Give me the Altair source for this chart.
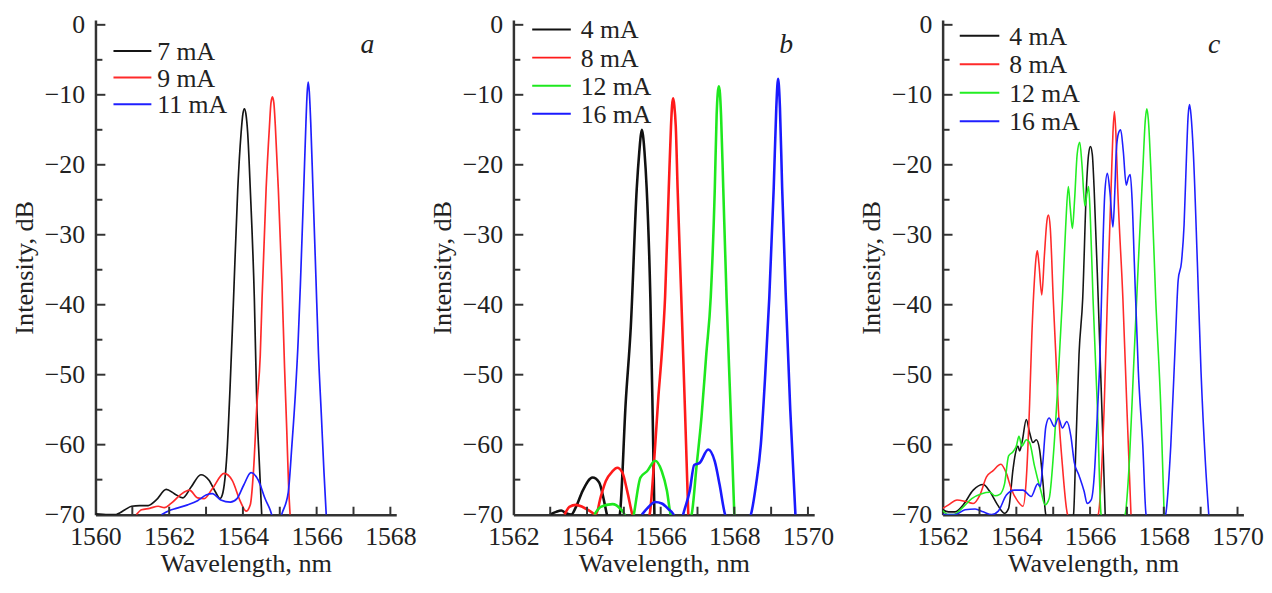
import altair as alt
import pandas as pd

FONT = "'Liberation Serif', 'Times New Roman', Times, 'DejaVu Serif', serif"
TXT = "#222222"
AXC = "#333333"
H = 500
W = 304

# ---------------- panel a ----------------
a_labels = ["7 mA", "9 mA", "11 mA"]
a_colors = ["#151515", "#ff2a2a", "#1f1fff"]
a7_wl = [1560.0, 1560.35, 1560.53, 1560.8, 1560.98, 1561.2, 1561.43, 1561.65, 1561.92, 1562.14,
         1562.37, 1562.59, 1562.86, 1563.08, 1563.26, 1563.38, 1563.44, 1563.57, 1563.65, 1563.74,
         1563.86, 1563.95, 1564.0, 1564.04, 1564.08, 1564.13, 1564.2, 1564.31, 1564.38, 1564.44, 1564.51]
a7_db = [-69.9, -70.0, -70.0, -69.3, -68.8, -68.7, -68.7, -67.9, -66.4, -67.0,
         -67.6, -66.1, -64.3, -65.1, -66.8, -67.7, -67.2, -61.0, -52.0, -40.0,
         -23.5, -15.5, -12.7, -12.0, -12.7, -15.5, -23.5, -39.1, -54.9, -62.0, -70.0]
a9_wl = [1561.11, 1561.25, 1561.47, 1561.70, 1561.87, 1562.05, 1562.32, 1562.55, 1562.77, 1562.95,
         1563.17, 1563.49, 1563.71, 1563.93, 1564.09, 1564.2, 1564.29, 1564.38, 1564.47, 1564.52,
         1564.63, 1564.72, 1564.76, 1564.80, 1564.84, 1564.88, 1564.96, 1565.06, 1565.13, 1565.19,
         1565.24, 1565.28]
a9_db = [-70.0, -69.3, -69.1, -68.8, -69.0, -68.4, -67.1, -66.5, -67.6, -67.7,
         -66.3, -64.1, -65.1, -68.1, -69.5, -68.6, -63.5, -54.2, -47.3, -39.0,
         -23.4, -14.5, -11.2, -10.3, -11.2, -14.5, -23.4, -37.0, -49.0, -58.0,
         -66.0, -70.0]
a11_wl = [1561.79, 1562.01, 1562.19, 1562.50, 1562.77, 1563.0, 1563.17, 1563.40, 1563.66, 1563.84,
          1564.02, 1564.22, 1564.42, 1564.60, 1564.78, 1564.9, 1565.05, 1565.23, 1565.33, 1565.42,
          1565.50, 1565.56, 1565.65, 1565.71, 1565.74, 1565.77, 1565.80, 1565.84, 1565.90, 1565.98,
          1566.05, 1566.13, 1566.20, 1566.26]
a11_db = [-70.0, -69.4, -69.1, -68.6, -68.0, -67.2, -67.0, -67.9, -68.2, -67.7,
          -65.8, -64.0, -65.1, -67.7, -70.0, -73.0, -70.0, -66.8, -60.0, -53.0,
          -45.0, -37.0, -23.4, -14.0, -10.0, -8.2, -9.5, -14.0, -23.4, -36.0,
          -47.0, -56.0, -64.0, -70.0]

# ---------------- panel b ----------------
b_labels = ["4 mA", "8 mA", "12 mA", "16 mA"]
b_colors = ["#111111", "#ff1a1a", "#1ee81e", "#1a1aff"]
b4_wl = [1562.99, 1563.16, 1563.30, 1563.43, 1563.57, 1563.70, 1563.88, 1564.15, 1564.33, 1564.46,
         1564.54, 1564.70, 1564.89, 1565.05, 1565.19, 1565.35, 1565.42, 1565.46, 1565.49, 1565.52,
         1565.56, 1565.62, 1565.72, 1565.78, 1565.83]
b4_db = [-70.0, -69.6, -69.4, -69.8, -70.0, -68.9, -66.6, -64.7, -65.4, -68.0,
         -70.0, -73.0, -70.0, -54.0, -43.0, -23.4, -18.1, -15.8, -15.0, -15.8,
         -18.1, -23.4, -39.0, -55.0, -70.0]
b8_wl = [1563.39, 1563.52, 1563.70, 1563.88, 1564.11, 1564.24, 1564.37, 1564.51, 1564.69, 1564.82,
         1564.96, 1565.09, 1565.23, 1565.45, 1565.70, 1565.81, 1565.94, 1566.03, 1566.12, 1566.22,
         1566.28, 1566.31, 1566.34, 1566.37, 1566.41, 1566.46, 1566.56, 1566.66, 1566.75]
b8_db = [-70.0, -68.9, -68.6, -68.9, -69.6, -70.0, -67.5, -65.2, -63.8, -63.3,
         -64.0, -66.6, -70.0, -73.0, -70.0, -63.3, -53.0, -47.0, -38.9, -23.4,
         -14.5, -11.5, -10.5, -11.5, -14.5, -23.4, -39.0, -55.0, -70.0]
b12_wl = [1564.20, 1564.37, 1564.69, 1564.91, 1565.02, 1565.15, 1565.27, 1565.45, 1565.63, 1565.85,
          1566.03, 1566.17, 1566.27, 1566.55, 1566.84, 1566.97, 1567.11, 1567.24, 1567.36, 1567.47,
          1567.52, 1567.55, 1567.58, 1567.61, 1567.64, 1567.70, 1567.79, 1567.90, 1568.0]
b12_db = [-70.0, -68.9, -68.5, -69.2, -70.0, -73.0, -70.0, -64.7, -63.8, -62.3,
          -63.8, -66.6, -70.0, -73.0, -70.0, -63.3, -56.0, -47.0, -38.9, -23.4,
          -12.9, -9.8, -8.8, -9.8, -12.9, -23.4, -39.0, -55.0, -70.0]
b16_wl = [1565.49, 1565.67, 1565.85, 1566.03, 1566.21, 1566.35, 1566.48, 1566.61, 1566.79, 1566.91,
          1567.06, 1567.29, 1567.47, 1567.60, 1567.75, 1568.1, 1568.45, 1568.59, 1568.72, 1568.84,
          1568.95, 1569.07, 1569.14, 1569.17, 1569.19, 1569.21, 1569.24, 1569.30, 1569.40, 1569.52,
          1569.66]
b16_db = [-70.0, -68.9, -68.2, -68.4, -69.2, -70.0, -73.0, -70.0, -66.6, -62.9,
          -62.6, -60.7, -62.4, -65.7, -70.0, -73.0, -70.0, -65.7, -60.0, -50.0,
          -39.0, -23.4, -11.9, -8.6, -7.7, -8.6, -11.9, -23.4, -39.0, -55.0,
          -70.0]

# ---------------- panel c ----------------
c_labels = ["4 mA", "8 mA", "12 mA", "16 mA"]
c_colors = ["#151515", "#ff2a2a", "#22ee22", "#1f1fff"]
c4_wl = [1562.0, 1562.16, 1562.34, 1562.56, 1562.83, 1563.10, 1563.28, 1563.49, 1563.68, 1563.79,
         1563.91, 1563.97, 1564.04, 1564.09, 1564.16, 1564.27, 1564.36, 1564.45, 1564.54, 1564.63,
         1564.72, 1564.80, 1565.2, 1565.55, 1565.61, 1565.70, 1565.80, 1565.90, 1565.96, 1566.01,
         1566.06, 1566.11, 1566.22, 1566.32, 1566.41]
c4_db = [-69.3, -69.6, -69.6, -68.6, -66.5, -65.7, -66.7, -68.6, -69.8, -69.1,
         -63.5, -61.4, -60.2, -60.9, -59.5, -56.4, -58.3, -59.7, -59.3, -60.7,
         -65.3, -70.0, -73.0, -70.0, -61.1, -47.1, -39.1, -23.4, -18.5, -17.4,
         -18.5, -23.4, -39.1, -54.9, -70.0]
c8_wl = [1562.0, 1562.16, 1562.39, 1562.61, 1562.83, 1563.01, 1563.19, 1563.37, 1563.58, 1563.73,
         1563.86, 1564.04, 1564.18, 1564.27, 1564.36, 1564.42, 1564.49, 1564.54, 1564.57, 1564.61,
         1564.69, 1564.76, 1564.83, 1564.87, 1564.92, 1565.0, 1565.07, 1565.14, 1565.25, 1565.39,
         1565.8, 1566.22, 1566.38, 1566.47, 1566.57, 1566.62, 1566.66, 1566.70, 1566.75, 1566.89,
         1567.0, 1567.11]
c8_db = [-69.1, -68.6, -67.9, -68.1, -68.4, -67.2, -64.6, -63.7, -62.8, -64.1,
         -66.3, -68.1, -68.8, -64.9, -54.1, -44.4, -36.5, -33.0, -32.3, -34.0,
         -38.6, -33.0, -28.0, -27.2, -29.0, -39.1, -47.1, -54.9, -63.0, -70.0,
         -73.0, -70.0, -55.0, -39.1, -23.4, -15.5, -12.4, -15.5, -23.4, -39.1,
         -54.9, -70.0]
c12_wl = [1562.0, 1562.16, 1562.30, 1562.52, 1562.79, 1563.06, 1563.28, 1563.42, 1563.55, 1563.68,
          1563.79, 1563.91, 1564.0, 1564.07, 1564.15, 1564.27, 1564.36, 1564.49, 1564.67, 1564.78,
          1564.89, 1565.01, 1565.13, 1565.25, 1565.34, 1565.41, 1565.46, 1565.52, 1565.58, 1565.65,
          1565.72, 1565.78, 1565.86, 1565.92, 1565.96, 1566.01, 1566.08, 1566.20, 1566.30, 1566.6,
          1566.95, 1567.07, 1567.18, 1567.31, 1567.43, 1567.50, 1567.54, 1567.58, 1567.65, 1567.78,
          1567.92, 1568.01]
c12_db = [-69.4, -70.0, -70.0, -69.1, -67.7, -67.0, -66.8, -67.3, -67.1, -65.6,
          -61.6, -61.0, -60.2, -58.8, -60.2, -59.3, -59.7, -63.0, -66.7, -68.6,
          -67.7, -61.1, -51.0, -39.1, -28.6, -23.1, -26.0, -29.1, -25.0, -18.5,
          -16.8, -20.0, -25.9, -24.0, -23.1, -28.0, -39.1, -54.9, -70.0, -73.0,
          -70.0, -62.0, -49.0, -33.9, -20.8, -13.5, -12.0, -13.5, -20.8, -39.1,
          -54.9, -70.0]
c16_wl = [1562.0, 1562.34, 1562.61, 1562.88, 1563.10, 1563.33, 1563.51, 1563.73, 1563.95, 1564.18,
          1564.40, 1564.58, 1564.65, 1564.72, 1564.80, 1564.89, 1565.03, 1565.14, 1565.25, 1565.37,
          1565.48, 1565.57, 1565.70, 1565.84, 1565.92, 1566.03, 1566.12, 1566.19, 1566.27, 1566.33,
          1566.40, 1566.47, 1566.54, 1566.62, 1566.67, 1566.71, 1566.77, 1566.83, 1566.90, 1566.98,
          1567.04, 1567.09, 1567.14, 1567.20, 1567.31, 1567.43, 1567.52, 1567.8, 1568.05, 1568.19,
          1568.32, 1568.39, 1568.48, 1568.55, 1568.62, 1568.66, 1568.70, 1568.74, 1568.80, 1568.91,
          1569.01, 1569.13, 1569.22]
c16_db = [-70.0, -70.0, -69.3, -69.2, -69.6, -70.0, -69.5, -67.2, -66.5, -66.5,
          -67.4, -65.6, -66.0, -62.5, -57.4, -56.2, -57.4, -56.2, -57.6, -56.7,
          -58.8, -62.5, -64.4, -66.7, -68.4, -67.9, -63.9, -56.4, -47.1, -35.0,
          -24.0, -21.2, -24.0, -28.9, -24.0, -18.1, -15.5, -15.0, -18.0, -22.9,
          -21.8, -21.4, -25.0, -33.9, -49.6, -60.1, -70.0, -73.0, -70.0, -60.1,
          -44.4, -36.5, -33.9, -28.6, -18.1, -13.0, -11.4, -13.0, -18.1, -33.9,
          -49.6, -62.7, -70.0]

y_major = [-60, -50, -40, -30, -20, -10, 0]
y_minor = [-65, -55, -45, -35, -25, -15, -5]
y_labels = [-70, -60, -50, -40, -30, -20, -10, 0]


def series_df(wls, dbs, label):
    return pd.DataFrame({"wl": wls, "db": dbs, "series": label, "ord": list(range(len(wls)))})


def legend_layers(labels, colors, x0, x1, tx, y0, dy):
    layers = []
    for i, (lab, col) in enumerate(zip(labels, colors)):
        yy = y0 + i * dy
        row = pd.DataFrame({"t": [lab]})
        layers.append(alt.Chart(row).mark_rule(color=col, strokeWidth=2).encode(
            x=alt.value(x0), x2=alt.value(x1), y=alt.value(yy)))
        layers.append(alt.Chart(row).mark_text(
            font=FONT, fontSize=26, color=TXT, align="left", baseline="middle").encode(
            x=alt.value(tx), y=alt.value(yy + 1), text="t:N"))
    return layers


def panel(series, labels, colors, xdom, xlabels, xticks, letter, letter_x, sw, leg):
    df = pd.concat([series_df(w, d, l) for (w, d, l) in series], ignore_index=True)
    xsc = alt.Scale(domain=xdom, nice=False, zero=False)
    ysc = alt.Scale(domain=[-70, 0.7], nice=False, zero=False)
    ax_x = alt.Axis(title="Wavelength, nm", values=xlabels, format="d", ticks=False, tickSize=0,
                    grid=False, labelPadding=9, titlePadding=1, domainColor=AXC, domainWidth=2.5,
                    labelOverlap=False, labelFlush=False)
    ax_y = alt.Axis(title="Intensity, dB", values=y_labels, format="d", ticks=False, tickSize=0,
                    grid=False, labelPadding=11, titlePadding=6, domainColor=AXC, domainWidth=2.5,
                    labelOverlap=False, labelFlush=False)
    lines = alt.Chart(df).mark_line(clip=True, strokeWidth=sw, interpolate="monotone").encode(
        x=alt.X("wl:Q", scale=xsc, axis=ax_x),
        y=alt.Y("db:Q", scale=ysc, axis=ax_y),
        color=alt.Color("series:N", scale=alt.Scale(domain=labels, range=colors), legend=None),
        order=alt.Order("ord:Q"),
    )
    xt = alt.Chart(pd.DataFrame({"wl": xticks})).mark_rule(color=AXC, strokeWidth=2).encode(
        x=alt.X("wl:Q", scale=xsc, axis=ax_x), y=alt.value(H), y2=alt.value(H - 8))
    ymaj = alt.Chart(pd.DataFrame({"db": y_major})).mark_rule(color=AXC, strokeWidth=2).encode(
        y=alt.Y("db:Q", scale=ysc, axis=ax_y), x=alt.value(0), x2=alt.value(10))
    ymin = alt.Chart(pd.DataFrame({"db": y_minor})).mark_rule(color=AXC, strokeWidth=2).encode(
        y=alt.Y("db:Q", scale=ysc, axis=ax_y), x=alt.value(0), x2=alt.value(7))
    let = alt.Chart(pd.DataFrame({"t": [letter]})).mark_text(
        font=FONT, fontStyle="italic", fontSize=28, color=TXT, align="center",
        baseline="alphabetic").encode(x=alt.value(letter_x), y=alt.value(33), text="t:N")
    legs = legend_layers(labels, colors, *leg)
    return alt.layer(lines, xt, ymaj, ymin, let, *legs).properties(width=W, height=H)


pa = panel([(a7_wl, a7_db, "7 mA"), (a9_wl, a9_db, "9 mA"), (a11_wl, a11_db, "11 mA")],
           a_labels, a_colors, [1560, 1568.16], [1560, 1562, 1564, 1566, 1568],
           [1561, 1562, 1563, 1564, 1565, 1566, 1567, 1568], "a", 274.8, 1.7,
           (18.2, 56.5, 62.5, 31.3, 27.0))
pb = panel([(b4_wl, b4_db, "4 mA"), (b8_wl, b8_db, "8 mA"), (b12_wl, b12_db, "12 mA"),
            (b16_wl, b16_db, "16 mA")],
           b_labels, b_colors, [1562, 1570.17], [1562, 1564, 1566, 1568, 1570],
           [1563, 1564, 1565, 1566, 1567, 1568, 1569, 1570], "b", 275.7, 2.6,
           (19.0, 58.0, 68.0, 9.7, 28.4))
pc = panel([(c4_wl, c4_db, "4 mA"), (c8_wl, c8_db, "8 mA"), (c12_wl, c12_db, "12 mA"),
            (c16_wl, c16_db, "16 mA")],
           c_labels, c_colors, [1562, 1570.16], [1562, 1564, 1566, 1568, 1570],
           [1563, 1564, 1565, 1566, 1567, 1568, 1569, 1570], "c", 274.3, 1.6,
           (17.3, 57.3, 67.3, 16.1, 28.8))

bc = alt.hconcat(pb, pc, spacing=24.8).resolve_scale(color="independent", x="independent",
                                                      y="independent")
chart = alt.hconcat(pa, bc, spacing=12.4).resolve_scale(
    color="independent", x="independent", y="independent"
).properties(
    padding={"left": 3.4, "top": 0, "right": 0, "bottom": 0}
).configure_view(strokeWidth=0).configure_axis(
    labelFont=FONT, titleFont=FONT, labelFontSize=26, titleFontSize=26.5,
    titleFontWeight="normal", labelColor=TXT, titleColor=TXT
).configure_text(font=FONT)

chart.save("out.html", embed_options={"renderer": "svg", "actions": False})
